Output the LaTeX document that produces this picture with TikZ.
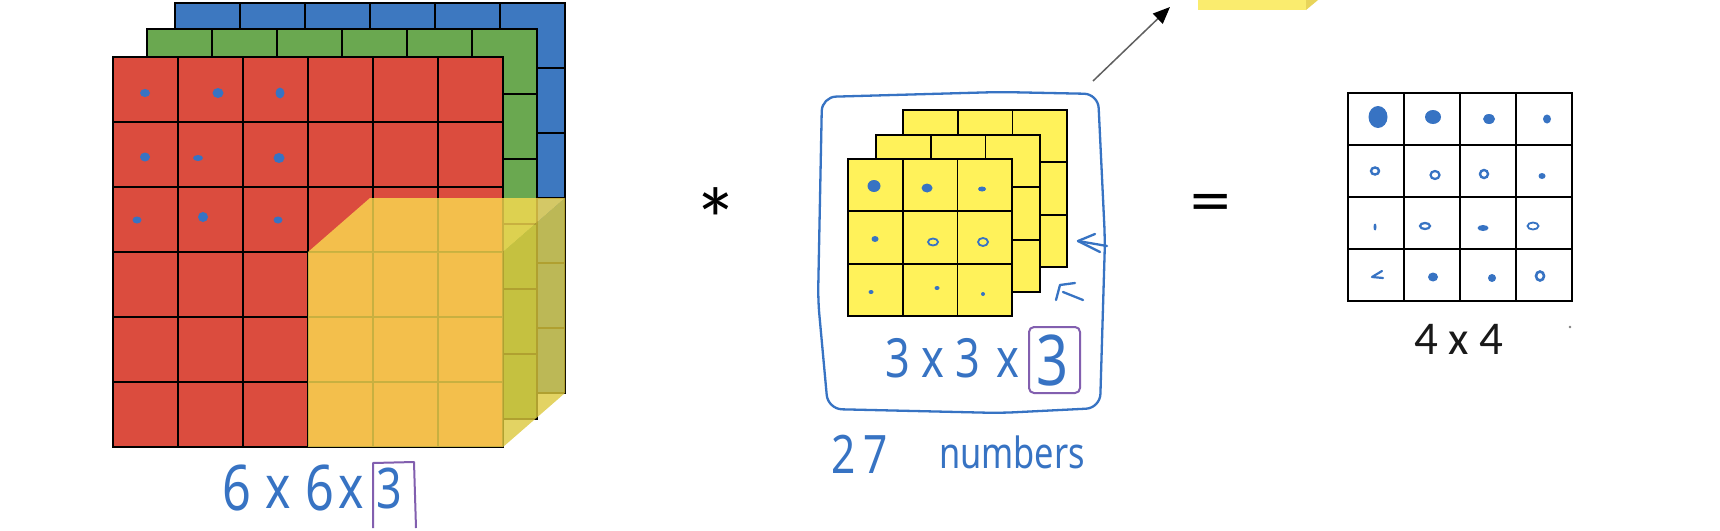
\documentclass[tikz,border=0pt]{standalone}
\usepackage{fontspec}
\newfontfamily\handfont[FakeStretch=0.8]{Noto Sans}
\newfontfamily\calfont{Carlito}
\newfontfamily\symfont{DejaVu Sans}
\usetikzlibrary{arrows.meta}
\definecolor{cred}{RGB}{219,76,62}
\definecolor{cgreen}{RGB}{106,168,80}
\definecolor{cblue}{RGB}{61,120,192}
\definecolor{cyel}{RGB}{255,242,90}
\definecolor{cubefront}{RGB}{250,220,80}
\definecolor{cubeside}{RGB}{220,200,60}
\definecolor{topfront}{RGB}{250,236,110}
\definecolor{topside}{RGB}{232,212,90}
\definecolor{handblue}{RGB}{55,115,195}
\definecolor{hpurple}{RGB}{130,95,175}
\definecolor{arrgray}{RGB}{95,95,95}
\newcommand{\mygridlayer}[7]{%
  \begin{scope}[shift={(#1,#2)}]
    \fill[#7] (0,0) rectangle (#3*#5,#4*#6);
    \foreach \i in {0,...,#3} \draw[gridline] (\i*#5,0) -- (\i*#5,#4*#6);
    \foreach \j in {0,...,#4} \draw[gridline] (0,\j*#6) -- (#3*#5,\j*#6);
  \end{scope}}
\begin{document}
\begin{tikzpicture}[x=1pt,y=-1pt,
  gridline/.style={line width=1.8pt, black, line cap=rect},
  hand/.style={text=handblue, inner sep=0pt, anchor=base},
  handstroke/.style={draw=handblue, line width=2.3pt, line cap=round, line join=round},
  purplebox/.style={draw=hpurple, line width=2pt, line join=round},
  blob/.style={fill=handblue},
  ring/.style={draw=handblue, line width=1.8pt},
  arrowline/.style={draw=arrgray, line width=1.5pt, -{Triangle[length=17pt,width=14pt,color=black]}}]
\useasboundingbox (0,0) rectangle (1720,530);
\fill[white] (0,0) rectangle (1720,530);

% ---- left 6x6x3 volume
\mygridlayer{175}{3}{6}{6}{65}{65}{cblue}
\mygridlayer{147}{29}{6}{6}{65}{65}{cgreen}
\mygridlayer{113}{57}{6}{6}{65}{65}{cred}
% blue dots on red layer
\fill[blob] (145,93) ellipse (5 and 4);
\fill[blob] (218,93) ellipse (5.5 and 5);
\fill[blob] (280,93) ellipse (4.5 and 5.5);
\fill[blob] (145,157) ellipse (5 and 4.5);
\fill[blob] (198,158) ellipse (5 and 3);
\fill[blob] (279,158) ellipse (5.5 and 5);
\fill[blob] (137,220) ellipse (4.5 and 3.5);
\fill[blob] (203,217) ellipse (5 and 5);
\fill[blob] (278,220) ellipse (4.5 and 3.5);
% yellow 3x3x3 cube
\fill[cubefront, opacity=0.8] (308,252) -- (370,198) -- (565,198) -- (503,252) -- cycle;
\fill[cubeside, opacity=0.8] (503,252) -- (565,198) -- (565,393) -- (503,447) -- cycle;
\fill[cubefront, opacity=0.8] (308,252) rectangle (503,447);

% label 6 x 6 x 3
\node[hand, font=\handfont\fontsize{63}{63}\selectfont] (l6a) at (237,510) {6};
\node[hand, font=\handfont\fontsize{60}{60}\selectfont] (lxa) at (278,508) {x};
\node[hand, font=\handfont\fontsize{63}{63}\selectfont] (l6b) at (320,510) {6};
\node[hand, font=\handfont\fontsize{60}{60}\selectfont] (lxb) at (351,508) {x};
\node[hand, font=\handfont\fontsize{56}{56}\selectfont] (l3) at (389,508) {3};
\draw[purplebox] (373,528) -- (373,463) -- (414,462) -- (416,528);

% ---- operators
\node[inner sep=0pt, anchor=base, font=\calfont\fontsize{90}{90}\selectfont] (star) at (716,251) {*};
\node[inner sep=0pt, anchor=base, font=\symfont\fontsize{53}{53}\selectfont] (eq) at (1211,218) {=};

% ---- filter 3x3x3
\mygridlayer{903}{110}{3}{3}{54.7}{52.3}{cyel}
\mygridlayer{876}{135}{3}{3}{54.7}{52.3}{cyel}
\mygridlayer{848}{159}{3}{3}{54.7}{52.3}{cyel}
\fill[blob] (874,186) ellipse (6.5 and 6);
\fill[blob] (927,188) ellipse (5.5 and 4.5);
\fill[blob] (982,189) ellipse (4 and 2.5);
\fill[blob] (875,239) ellipse (3.5 and 3);
\draw[ring] (933,242) ellipse (5 and 3.5);
\draw[ring] (983,242) ellipse (5 and 4);
\fill[blob] (871,292) ellipse (2.5 and 2);
\fill[blob] (937,288) ellipse (2.5 and 2);
\fill[blob] (983,294) circle (2);
% hand drawn box around the filter
\draw[handstroke, rounded corners=14pt] (822,97) -- (1000,92) -- (1098,94) -- (1105,240) -- (1100,408) -- (1000,413) -- (828,409) -- (818,300) -- cycle;
% little marks
\draw[handstroke] (1095,234) -- (1078,241) -- (1100,252);
\draw[handstroke] (1078,241) -- (1107,246);
\draw[handstroke] (1075,283) -- (1060,285) -- (1056,300);
\draw[handstroke] (1063,292) -- (1083,300);
% label 3 x 3 x 3
\node[hand, font=\handfont\fontsize{54}{54}\selectfont] (f3a) at (898,377) {3};
\node[hand, font=\handfont\fontsize{54}{54}\selectfont] (fxa) at (933,377) {x};
\node[hand, font=\handfont\fontsize{54}{54}\selectfont] (f3b) at (968,377) {3};
\node[hand, font=\handfont\fontsize{54}{54}\selectfont] (fxb) at (1008,377) {x};
\node[hand, font=\handfont\fontsize{70}{70}\selectfont] (f3c) at (1053,385) {3};
\draw[purplebox, rounded corners=5pt] (1029,327) rectangle (1080,393);
% 27 numbers
\node[hand, font=\handfont\fontsize{53}{53}\selectfont] (n2) at (844,473) {2};
\node[hand, font=\handfont\fontsize{53}{53}\selectfont] (n7) at (876,473) {7};
\node[hand, font=\handfont\fontsize{43}{43}\selectfont] (num) at (1012,468) {numbers};

% ---- arrow to top and partial yellow block
\coordinate (arrs) at (1093,81);
\coordinate (arre) at (1170,7);
\draw[arrowline] (arrs) -- (arre);
\fill[topfront] (1198,-2) rectangle (1306,10);
\fill[topside] (1306,-2) -- (1306,10) -- (1318,0) -- (1318,-2) -- cycle;

% ---- output 4x4
\mygridlayer{1348}{93}{4}{4}{56}{52}{white}
\fill[blob] (1378,117) ellipse (9.5 and 11);
\fill[blob] (1433,117) ellipse (8 and 7);
\fill[blob] (1489,119) ellipse (6 and 5);
\fill[blob] (1547,119) ellipse (4 and 4.5);
\draw[ring, line width=2.4pt] (1375,171) ellipse (4 and 3.5);
\draw[ring, line width=2.2pt] (1435,175) ellipse (4.5 and 4);
\draw[ring, line width=2.4pt] (1484,174) ellipse (4 and 4);
\fill[blob] (1542,176) ellipse (3.5 and 3);
\fill[blob] (1375,227) ellipse (1.5 and 3.5);
\draw[ring, line width=2.2pt] (1425,226) ellipse (5 and 3);
\fill[blob] (1483,228) ellipse (5.5 and 3);
\draw[ring] (1533,226) ellipse (5.5 and 3.5);
\draw[handstroke, line width=2.2pt] (1382,271) -- (1372,277) -- (1383,278);
\fill[blob] (1433,277) ellipse (5 and 4.5);
\fill[blob] (1492,278) ellipse (4 and 4);
\draw[ring, line width=2.6pt] (1540,276) ellipse (4 and 4.5);
\node[inner sep=0pt, anchor=base, text=black!90, font=\calfont\fontsize{47}{47}\selectfont] (out) at (1459,354) {4 x 4};
\fill[gray] (1570,327) circle (1.3);
\end{tikzpicture}
\end{document}
